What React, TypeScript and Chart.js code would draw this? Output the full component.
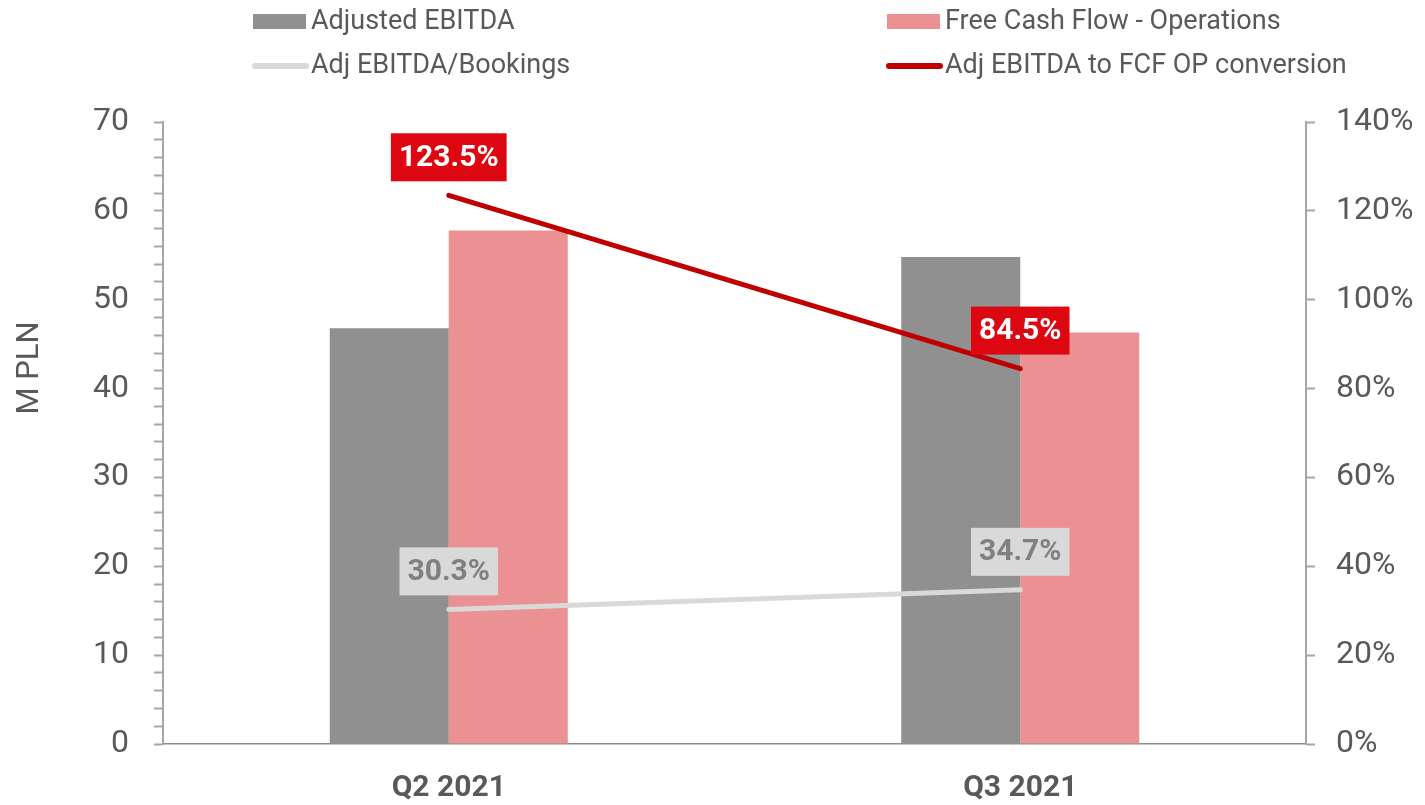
import React, { useEffect, useRef } from "react";
import { Chart, registerables } from "chart.js";

Chart.register(...registerables);

const categories = ["Q2 2021", "Q3 2021"];
const adjustedEbitda = [46.8, 54.8];
const fcfOperations = [57.8, 46.3];
const ebitdaBookings = [30.3, 34.7];
const conversion = [123.5, 84.5];

const leftTicksMax = 70;
const rightTicksMax = 140;

const FONT = "Roboto";
const TEXT = "#595959";
const AXIS = "#a6a6a6";

const legendPlugin = {
  id: "gridLegend",
  afterDraw(chart: any) {
    const ctx = chart.ctx;
    const cols = [253, 887];
    const rows = [21.5, 66];
    const baselines = [29, 73];
    ctx.save();
    chart.data.datasets.forEach((ds: any, i: number) => {
      const col = cols[i % 2];
      const row = Math.floor(i / 2);
      const cy = rows[row];
      if (ds.type === "line") {
        ctx.strokeStyle = ds.borderColor;
        ctx.lineWidth = 6;
        ctx.lineCap = "round";
        ctx.beginPath();
        ctx.moveTo(col + 2, cy);
        ctx.lineTo(col + 53, cy);
        ctx.stroke();
      } else {
        ctx.fillStyle = ds.backgroundColor;
        ctx.fillRect(col, cy - 7.5, 53, 15);
      }
      ctx.fillStyle = TEXT;
      ctx.font = `27px ${FONT}`;
      ctx.textAlign = "left";
      ctx.textBaseline = "alphabetic";
      ctx.fillText(ds.label, col + 58, baselines[row]);
    });
    ctx.restore();
  },
};

const axisTitlePlugin = {
  id: "axisTitle",
  afterDraw(chart: any) {
    const ctx = chart.ctx;
    ctx.save();
    ctx.translate(30, 368);
    ctx.rotate(-Math.PI / 2);
    ctx.fillStyle = TEXT;
    ctx.font = `31px ${FONT}`;
    ctx.textAlign = "center";
    ctx.textBaseline = "middle";
    ctx.fillText("M PLN", 0, 0);
    ctx.restore();
  },
};

const labelPlugin = {
  id: "boxLabels",
  afterDatasetsDraw(chart: any) {
    const ctx = chart.ctx;
    ctx.save();
    chart.data.datasets.forEach((ds: any, i: number) => {
      if (ds.type !== "line") return;
      const meta = chart.getDatasetMeta(i);
      meta.data.forEach((pt: any, j: number) => {
        const text = ds.data[j].toFixed(1) + "%";
        ctx.font = `bold 30px ${FONT}`;
        const w = ctx.measureText(text).width + 16;
        const h = 48;
        const bottom = pt.y - 14;
        ctx.fillStyle = ds.labelBg;
        ctx.fillRect(pt.x - w / 2, bottom - h, w, h);
        ctx.fillStyle = ds.labelColor;
        ctx.textAlign = "center";
        ctx.textBaseline = "middle";
        ctx.fillText(text, pt.x, bottom - h / 2 + 1);
      });
    });
    ctx.restore();
  },
};

export default function App() {
  const ref = useRef<HTMLCanvasElement | null>(null);
  useEffect(() => {
    if (!ref.current) return;
    Chart.defaults.font.family = FONT;
    const chart = new Chart(ref.current, {
      type: "bar",
      data: {
        labels: categories,
        datasets: [
          {
            type: "bar",
            label: "Adjusted EBITDA",
            data: adjustedEbitda,
            backgroundColor: "#909090",
            yAxisID: "y",
            order: 2,
            categoryPercentage: 0.4165,
            barPercentage: 1,
          } as any,
          {
            type: "bar",
            label: "Free Cash Flow - Operations",
            data: fcfOperations,
            backgroundColor: "#eb9093",
            yAxisID: "y",
            order: 2,
            categoryPercentage: 0.4165,
            barPercentage: 1,
          } as any,
          {
            type: "line",
            label: "Adj EBITDA/Bookings",
            data: ebitdaBookings,
            borderColor: "#d9d9d9",
            backgroundColor: "#d9d9d9",
            borderWidth: 5,
            borderCapStyle: "round",
            pointRadius: 0,
            yAxisID: "y1",
            order: 1,
            labelBg: "#d9d9d9",
            labelColor: "#808080",
          } as any,
          {
            type: "line",
            label: "Adj EBITDA to FCF OP conversion",
            data: conversion,
            borderColor: "#c00000",
            backgroundColor: "#c00000",
            borderWidth: 5,
            borderCapStyle: "round",
            pointRadius: 0,
            yAxisID: "y1",
            order: 0,
            labelBg: "#dc0711",
            labelColor: "#ffffff",
          } as any,
        ],
      },
      options: {
        animation: false,
        responsive: false,
        layout: { padding: { top: 122, left: 0, right: 0, bottom: 0 } },
        plugins: {
          legend: { display: false },
          tooltip: { enabled: false },
        },
        scales: {
          x: {
            grid: { display: false, drawTicks: false },
            border: { display: true, color: "#8c8c8c", width: 1.5 },
            ticks: {
              color: TEXT,
              font: { family: FONT, size: 30, weight: "bold" },
              padding: 26,
            },
            afterFit: (s: any) => {
              s.height = 61;
            },
          },
          y: {
            position: "left",
            min: 0,
            max: leftTicksMax,
            grid: {
              display: true,
              drawOnChartArea: false,
              drawTicks: true,
              tickLength: 9,
              tickColor: AXIS,
              tickWidth: 2,
            },
            border: { display: true, color: AXIS, width: 2 },
            ticks: {
              stepSize: 2,
              autoSkip: false,
              color: TEXT,
              font: { family: FONT, size: 32 },
              padding: 25,
              callback: (v: any) => (Number(v) % 10 === 0 ? String(v) : ""),
            },
            afterFit: (s: any) => {
              s.width = 163;
            },
          },
          y1: {
            position: "right",
            min: 0,
            max: rightTicksMax,
            grid: {
              display: true,
              drawOnChartArea: false,
              drawTicks: true,
              tickLength: 9,
              tickColor: AXIS,
              tickWidth: 2,
            },
            border: { display: true, color: AXIS, width: 2 },
            ticks: {
              stepSize: 20,
              autoSkip: false,
              color: TEXT,
              font: { family: FONT, size: 32 },
              padding: 21,
              callback: (v: any) => v + "%",
            },
            afterFit: (s: any) => {
              s.width = 119;
            },
          },
        },
      } as any,
      plugins: [legendPlugin, axisTitlePlugin, labelPlugin],
    });
    return () => chart.destroy();
  }, []);
  return (
    <div style={{ position: "fixed", left: 0, top: 0, width: 1425, height: 805, background: "#fff" }}>
      <canvas ref={ref} width={1425} height={805} style={{ width: 1425, height: 805 }} />
    </div>
  );
}
